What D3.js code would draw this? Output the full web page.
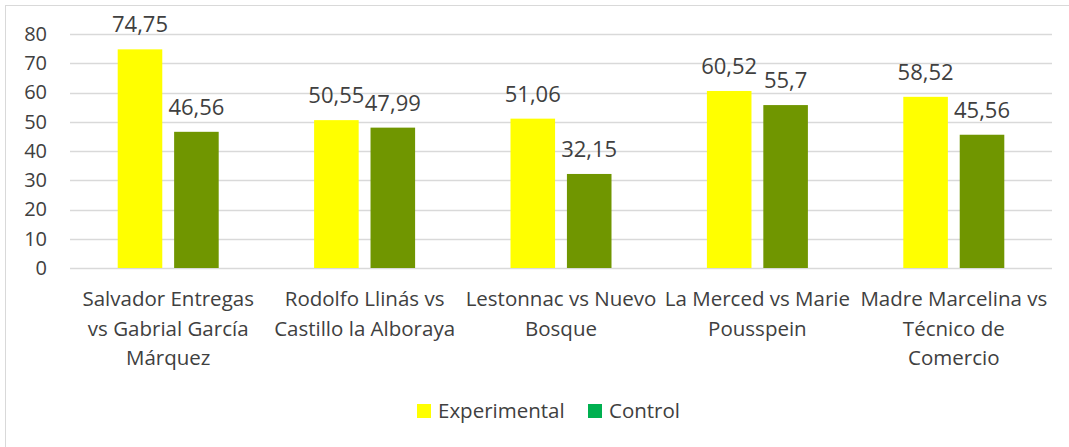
<!DOCTYPE html>
<html>
<head>
<meta charset="utf-8">
<script src="https://cdn.jsdelivr.net/npm/d3@7"></script>
<style>
  body { margin: 0; background: #fff; }
  text { font-family: "Open Sans", sans-serif; fill: #404040; }
</style>
</head>
<body>
<div id="chart"></div>
<script>
// chart values
var categories = [
  "Salvador Entregas\nvs Gabrial García\nMárquez",
  "Rodolfo Llinás vs\nCastillo la Alboraya",
  "Lestonnac vs Nuevo\nBosque",
  "La Merced vs Marie\nPousspein",
  "Madre Marcelina vs\nTécnico de\nComercio"
];
var seriesNames = ["Experimental", "Control"];
var experimental = [74.75, 50.55, 51.06, 60.52, 58.52];
var control = [46.56, 47.99, 32.15, 55.7, 45.56];
var yTicks = [0, 10, 20, 30, 40, 50, 60, 70, 80];

var svgWidth = 1069;
var svgHeight = 447;

var margin = { top: 34, right: 17, bottom: 179, left: 70 };
var width = svgWidth - margin.left - margin.right;
var height = svgHeight - margin.top - margin.bottom;

var svg = d3.select("#chart")
  .append("svg")
  .attr("width", svgWidth)
  .attr("height", svgHeight);

// outer border (only top/left visible in the picture)
svg.append("rect")
  .attr("x", 5.5).attr("y", 5.5)
  .attr("width", svgWidth + 20).attr("height", svgHeight + 20)
  .attr("fill", "none")
  .attr("stroke", "#d9d9d9");

var chartGroup = svg.append("g")
  .attr("transform", `translate(${margin.left}, ${margin.top})`);

var rows = categories.map(function(c, i) {
  return { cat: c, values: [experimental[i], control[i]] };
});

var x0 = d3.scaleBand()
  .domain(categories)
  .range([0, width])
  .padding(0);

var pad = (x0.bandwidth() - 101) / 2;
var x1 = d3.scaleBand()
  .domain(seriesNames)
  .range([pad, x0.bandwidth() - pad])
  .paddingInner(0.21);

var y = d3.scaleLinear()
  .domain([0, 80])
  .range([height, 0]);

var barColor = { "Experimental": "#ffff00", "Control": "#709600" };
var legendColor = { "Experimental": "#ffff00", "Control": "#00b050" };

// gridlines
chartGroup.selectAll(".grid")
  .data(yTicks)
  .enter()
  .append("line")
  .attr("x1", 0)
  .attr("x2", width)
  .attr("y1", d => Math.round(y(d)) + 0.5)
  .attr("y2", d => Math.round(y(d)) + 0.5)
  .attr("stroke", "#d9d9d9")
  .attr("stroke-width", 1.5);

// y axis labels
var leftAxis = d3.axisLeft(y).tickValues(yTicks).tickSize(0).tickPadding(23);
var yAxisG = chartGroup.append("g").call(leftAxis);
yAxisG.select(".domain").remove();
yAxisG.selectAll("text")
  .attr("font-size", "20px")
  .attr("fill", "#404040")
  .attr("font-family", "Open Sans, sans-serif");

// bars
var groups = chartGroup.selectAll(".cat")
  .data(rows)
  .enter()
  .append("g")
  .attr("transform", d => `translate(${x0(d.cat)}, 0)`);

groups.selectAll("rect")
  .data(d => d.values.map((v, i) => ({ name: seriesNames[i], value: v })))
  .enter()
  .append("rect")
  .attr("x", d => x1(d.name))
  .attr("width", x1.bandwidth())
  .attr("y", d => y(d.value))
  .attr("height", d => height - y(d.value))
  .attr("fill", d => barColor[d.name]);

// value labels
groups.selectAll(".val")
  .data(d => d.values.map((v, i) => ({ name: seriesNames[i], value: v })))
  .enter()
  .append("text")
  .attr("x", d => x1(d.name) + x1.bandwidth() / 2)
  .attr("y", d => y(d.value) - 17)
  .attr("text-anchor", "middle")
  .attr("font-size", "22px")
  .text(d => String(d.value).replace(".", ","));

// category labels
var xAxisG = chartGroup.append("g")
  .attr("transform", `translate(0, ${height})`);
categories.forEach(function(c) {
  var t = xAxisG.append("text")
    .attr("text-anchor", "middle")
    .attr("font-size", "20.5px")
    .attr("x", x0(c) + x0.bandwidth() / 2)
    .attr("y", 38);
  c.split("\n").forEach(function(line, i) {
    t.append("tspan")
      .attr("x", x0(c) + x0.bandwidth() / 2)
      .attr("dy", i === 0 ? 0 : 29.5)
      .text(line);
  });
});

// legend
var legendItems = [
  { name: "Experimental", x: 417 },
  { name: "Control", x: 588 }
];
var legend = svg.selectAll(".legend")
  .data(legendItems)
  .enter()
  .append("g")
  .attr("transform", d => `translate(${d.x}, 404)`);

legend.append("rect")
  .attr("width", 14)
  .attr("height", 14)
  .attr("fill", d => legendColor[d.name]);

legend.append("text")
  .attr("x", 21)
  .attr("y", 14)
  .attr("font-size", "20.5px")
  .text(d => d.name);
</script>
</body>
</html>
